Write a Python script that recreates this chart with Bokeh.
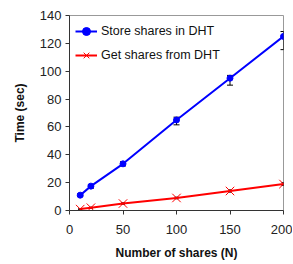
from bokeh.plotting import figure
from bokeh.models import Range1d, Whisker, ColumnDataSource, Legend, LegendItem, FixedTicker
from bokeh.embed import file_html
from bokeh.resources import INLINE

n_shares = [10, 20, 50, 100, 150, 200]
store_time = [11.0, 17.5, 33.5, 65.0, 95.0, 125.0]
store_upper = [12.0, 18.5, 35.0, 67.0, 97.0, 128.5]
store_lower = [10.0, 16.0, 32.0, 61.5, 90.0, 115.5]
get_time = [1.0, 2.0, 5.0, 9.0, 14.0, 19.0]
get_upper = [1.3, 2.4, 5.5, 9.6, 14.8, 20.0]
get_lower = [0.7, 1.6, 4.5, 8.4, 13.2, 18.0]
x_ticks = [0, 50, 100, 150, 200]
y_ticks = [0, 20, 40, 60, 80, 100, 120, 140]

FONT = "Liberation Sans"

p = figure(width=292, height=263, output_backend="svg", toolbar_location=None,
           x_range=Range1d(0, 200), y_range=Range1d(0, 140),
           min_border_left=69, min_border_right=9, min_border_top=15, min_border_bottom=53)
p.xgrid.visible = False
p.ygrid.visible = False
p.outline_line_color = "#999999"
p.outline_line_width = 1
p.background_fill_color = "white"
p.border_fill_color = "white"

for ax in (p.xaxis[0], p.yaxis[0]):
    ax.axis_line_color = "#333333"
    ax.major_tick_line_color = "#333333"
    ax.minor_tick_line_color = None
    ax.major_tick_out = 4
    ax.major_tick_in = 0
    ax.major_label_text_font = FONT
    ax.major_label_text_font_size = "13px"
    ax.major_label_text_color = "#222222"
    ax.axis_label_text_font = FONT
    ax.axis_label_text_font_size = "12px"
    ax.axis_label_text_font_style = "bold"
    ax.axis_label_text_color = "#111111"

p.xaxis.ticker = FixedTicker(ticks=x_ticks)
p.yaxis.ticker = FixedTicker(ticks=y_ticks)
p.xaxis.axis_label = "Number of shares (N)"
p.yaxis.axis_label = "Time (sec)"
p.xaxis.major_label_standoff = 10
p.xaxis.axis_label_standoff = 9
p.yaxis.major_label_standoff = 4
p.yaxis.axis_label_standoff = 10

src_s = ColumnDataSource(dict(x=n_shares, y=store_time, up=store_upper, lo=store_lower))
src_g = ColumnDataSource(dict(x=n_shares, y=get_time, up=get_upper, lo=get_lower))

l1 = p.line("x", "y", source=src_s, line_color="#0000ff", line_width=2)
m1 = p.scatter("x", "y", source=src_s, marker="circle", size=6, fill_color="#0000ff", line_color="#0000ff")
w1 = Whisker(base="x", upper="up", lower="lo", source=src_s, line_color="black", line_width=1)
w1.upper_head.size = 6
w1.lower_head.size = 6
w1.upper_head.line_color = "black"
w1.lower_head.line_color = "black"
p.add_layout(w1)

l2 = p.line("x", "y", source=src_g, line_color="#ff0000", line_width=2)
w2 = Whisker(base="x", upper="up", lower="lo", source=src_g, line_color="black", line_width=1)
w2.upper_head.size = 4
w2.lower_head.size = 4
p.add_layout(w2)
m2 = p.scatter("x", "y", source=src_g, marker="x", size=12, line_color="#ff0000", line_width=1)

legend = Legend(items=[LegendItem(label="Store shares in DHT", renderers=[l1, m1]),
                       LegendItem(label="Get shares from DHT", renderers=[l2, m2])],
                location="top_left")
legend.border_line_color = None
legend.background_fill_alpha = 0
legend.label_text_font = FONT
legend.label_text_font_size = "12.5px"
legend.label_text_color = "#111111"
legend.glyph_width = 22
legend.glyph_height = 20
legend.spacing = 4
legend.margin = 6
legend.padding = 5
legend.label_standoff = 4
legend.label_height = 20
p.add_layout(legend)

open("out.html", "w").write(file_html(p, INLINE))
